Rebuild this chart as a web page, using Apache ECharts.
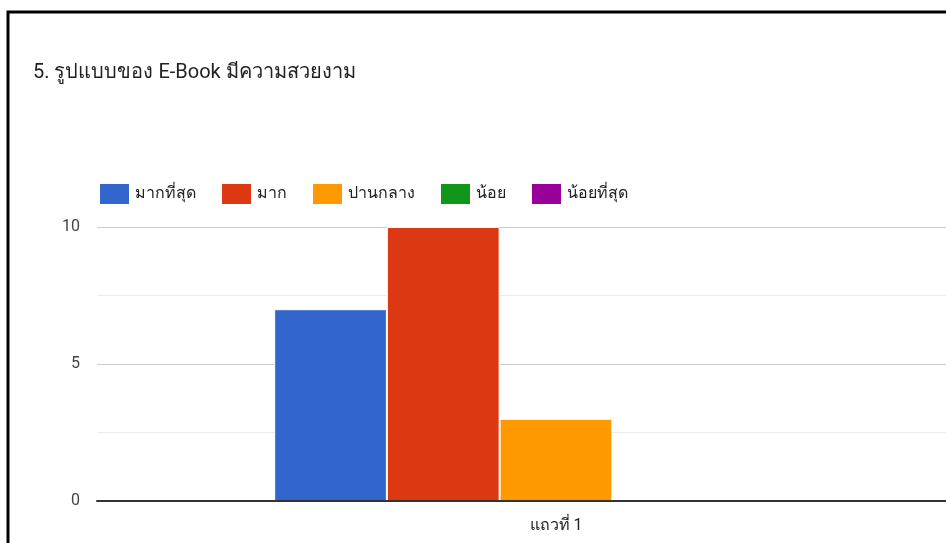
<!DOCTYPE html>
<html>
<head>
<meta charset="utf-8">
<script src="https://cdn.jsdelivr.net/npm/echarts@6/dist/echarts.min.js"></script>
<style>
  html, body { margin: 0; padding: 0; background: #fff; overflow: hidden; }
  #frame { width: 946px; height: 543px; overflow: hidden; position: relative; }
  #chart { width: 1016px; height: 543px; }
</style>
</head>
<body>
<div id="frame"><div id="chart"></div></div>
<script>
// Survey question and answer scale
const titleText = '5. รูปแบบของ E-Book มีความสวยงาม';
const categories = ['แถวที่ 1'];
const seriesNames = ['มากที่สุด', 'มาก', 'ปานกลาง', 'น้อย', 'น้อยที่สุด'];
const seriesValues = [[7], [10], [3], [0], [0]];
const seriesColors = ['#3366cc', '#dc3912', '#ff9900', '#109618', '#990099'];

const FONT = 'Roboto, "Noto Sans", "Liberation Sans", sans-serif';

const chart = echarts.init(document.getElementById('chart'), null, { renderer: 'canvas' });

chart.setOption({
  animation: false,
  backgroundColor: '#fff',
  color: seriesColors,
  title: {
    text: titleText,
    left: 28,
    top: 58,
    textStyle: { fontFamily: FONT, fontSize: 20, fontWeight: 'normal', color: '#222' }
  },
  legend: {
    left: 93,
    top: 177,
    itemWidth: 31,
    itemHeight: 22,
    itemGap: 24,
    icon: 'rect',
    textStyle: { fontFamily: FONT, fontSize: 16, color: '#222' },
    data: seriesNames
  },
  grid: { left: 97, top: 227, width: 918, height: 274, containLabel: false },
  xAxis: {
    type: 'category',
    data: categories,
    z: 5,
    axisLine: { show: true, lineStyle: { color: '#333', width: 2 } },
    axisTick: { show: false },
    axisLabel: { fontFamily: FONT, fontSize: 16, color: '#222', margin: 17 }
  },
  yAxis: {
    type: 'value',
    min: 0,
    max: 10,
    interval: 5,
    axisLine: { show: false },
    axisTick: { show: false },
    axisLabel: { fontFamily: FONT, fontSize: 16, color: '#444', margin: 17 },
    splitLine: { lineStyle: { color: '#cccccc', width: 1 } },
    minorTick: { show: false, splitNumber: 2 },
    minorSplitLine: { show: true, lineStyle: { color: '#ebebeb', width: 1 } }
  },
  series: seriesNames.map((name, i) => ({
    name,
    type: 'bar',
    data: seriesValues[i],
    barGap: '0%',
    barCategoryGap: '38.6%',
    itemStyle: { color: seriesColors[i], borderColor: '#fff', borderWidth: 1 }
  })),
  graphic: [{
    type: 'rect',
    shape: { x: 8, y: 12, width: 1100, height: 700 },
    style: { fill: 'none', stroke: '#000', lineWidth: 3 },
    silent: true,
    z: 100
  }]
});
</script>
</body>
</html>
